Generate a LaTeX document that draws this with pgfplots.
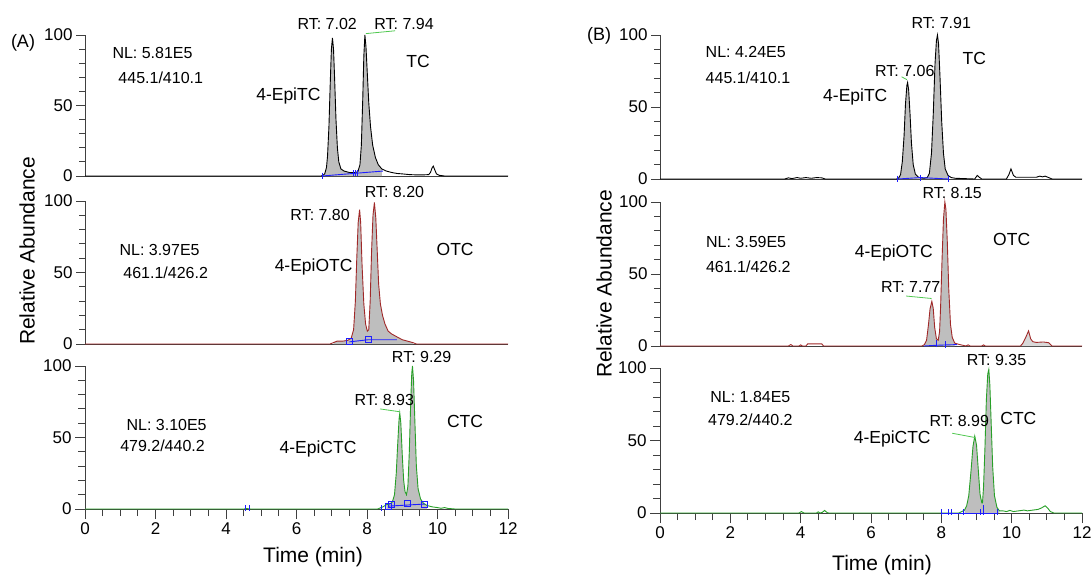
\documentclass[border=0pt]{standalone}
\usepackage{fontspec}
\setmainfont{Liberation Sans}
\usepackage{pgfplots}
\usepackage{pgfplotstable}
\pgfplotsset{compat=1.18}

\definecolor{cred}{RGB}{160,40,40}
\definecolor{cgreen}{RGB}{40,160,40}
\definecolor{cblue}{RGB}{30,30,255}
\definecolor{cfill}{RGB}{190,190,190}
\definecolor{cann}{RGB}{80,200,80}

\pgfplotstableread{
t v
0 0
6.70 0
6.75 0.5
6.80 1.5
6.85 6
6.88 14
6.92 35
6.96 68
6.99 90
7.02 98
7.05 90
7.08 70
7.12 40
7.16 20
7.20 10
7.26 5
7.35 3.5
7.50 2.5
7.66 2.5
7.74 3
7.80 8
7.84 22
7.88 55
7.91 85
7.94 100
7.97 92
8.01 72
8.05 52
8.10 35
8.16 22
8.24 13
8.32 8
8.42 5
8.55 3.5
8.70 2.5
8.85 1.8
9.00 1.5
9.20 1.0
9.40 0.8
9.60 0.8
9.75 1
9.80 2.5
9.85 6
9.88 7
9.92 4.5
9.97 1.5
10.05 0.5
10.2 0
12 0
}\dataAa

\pgfplotstableread{
t v
0 0
6.95 0
7.05 1
7.15 2
7.30 2
7.45 2.5
7.55 4
7.62 10
7.67 30
7.71 60
7.75 85
7.79 94
7.82 85
7.86 55
7.91 28
7.96 14
8.01 9
8.05 10
8.09 30
8.13 65
8.17 90
8.21 99
8.25 88
8.29 65
8.33 42
8.38 28
8.44 20
8.51 14
8.60 9
8.70 7
8.85 5
9.00 3
9.15 2
9.30 1
9.40 0
12 0
}\dataAb

\pgfplotstableread{
t v
0 0
4.50 0
4.60 0.3
4.70 0
8.30 0
8.45 1.5
8.55 3
8.65 3.5
8.72 5
8.78 10
8.83 25
8.87 45
8.91 63
8.93 67
8.96 60
9.00 38
9.04 20
9.08 12
9.12 10
9.16 16
9.20 40
9.24 75
9.27 95
9.29 100
9.32 90
9.36 60
9.40 30
9.45 14
9.52 7
9.60 4
9.70 2.5
9.85 1.5
10.0 1
10.1 0.5
10.2 1
10.3 0.4
10.5 0
12 0
}\dataAc

\pgfplotstableread{
t v
0 0
3.55 0
3.65 0.8
3.75 0.3
3.90 1
4.00 0.5
4.15 1
4.30 0.5
4.45 1
4.60 0.8
4.70 0
6.72 0
6.78 0.5
6.84 3
6.89 12
6.94 30
6.98 52
7.02 65
7.04 67
7.07 62
7.11 45
7.15 25
7.20 10
7.26 3.5
7.35 1.2
7.50 0.5
7.60 1
7.66 4
7.72 18
7.77 45
7.82 80
7.86 96
7.89 100
7.92 94
7.96 72
8.01 40
8.06 18
8.11 7
8.19 2.5
8.28 1
8.40 0.5
8.95 0
9.02 2.5
9.08 1.2
9.15 0
9.85 0
9.92 3
9.98 7
10.05 2.5
10.12 1.2
10.40 1.2
10.70 1.2
10.80 2
10.88 1.5
10.95 2
11.05 1
11.15 0
12 0
}\dataBa

\pgfplotstableread{
t v
0 0
3.65 0
3.72 1
3.78 0
3.95 0
4.00 0.8
4.05 0
4.15 0
4.20 1.5
4.60 1.5
4.65 0
7.45 0
7.52 1
7.58 4
7.63 14
7.68 26
7.73 31
7.77 26
7.81 13
7.86 5
7.91 4
7.95 10
7.98 28
8.02 60
8.06 88
8.10 100
8.13 95
8.17 72
8.21 40
8.26 15
8.31 6
8.38 2
8.52 1
8.70 0
8.76 0.8
8.82 0
9.15 0
9.20 0.8
9.25 0
10.25 0
10.32 2
10.40 6
10.48 10.5
10.54 5
10.60 3
10.70 2.5
10.90 2.8
11.05 2.3
11.15 0
12 0
}\dataBb

\pgfplotstableread{
t v
0 0
3.95 0
4.02 1
4.10 0
4.45 0
4.50 0.8
4.55 0
4.62 0.5
4.68 1.8
4.75 0.3
4.80 0
8.50 0
8.58 1
8.66 2
8.72 5
8.78 12
8.84 28
8.90 46
8.95 53
9.00 47
9.05 30
9.10 13
9.15 7
9.17 7
9.20 18
9.24 45
9.28 78
9.32 96
9.35 99
9.38 88
9.42 60
9.46 32
9.51 12
9.58 4
9.65 1.5
9.75 1.5
9.85 1
9.95 1.8
10.05 1
10.20 1.5
10.35 2
10.45 1.5
10.60 2
10.75 2.5
10.85 3.5
10.95 5
11.02 3.5
11.10 1
11.20 0
12 0
}\dataBc

\tikzset{
  lab/.style={font=\fontsize{17.5}{17.5}\selectfont},
  ann/.style={font=\fontsize{16}{16}\selectfont},
}

\pgfplotsset{
  chrom/.style={
    scale only axis,
    xmin=0, xmax=12, ymin=0, ymax=100,
    axis x line*=bottom, axis y line*=left,
    axis line style={-, black!75, line width=0.9pt},
    ytick={0,50,100}, minor ytick={10,20,30,40,60,70,80,90},
    xtick=\empty,
    tick align=outside,
    major tick length=9pt, minor tick length=6pt,
    every tick/.style={black!75, line width=0.9pt},
    ticklabel style={font=\fontsize{17}{17}\selectfont},
    /pgf/number format/assume math mode=true,
    clip=false,
  },
  bottomx/.style={
    xtick={0,2,...,12}, minor x tick num=3,
    major tick length=10pt, minor tick length=7pt,
  },
  bmark/.style={cblue, only marks, mark=|, mark size=3pt, mark options={draw=cblue, line width=0.9pt}},
  bsq/.style={cblue, only marks, mark=square, mark size=3pt, mark options={draw=cblue, fill=none, line width=0.9pt}},
}

\begin{document}
\begin{tikzpicture}
\path[use as bounding box] (0pt,0pt) rectangle (1091pt,-574pt);

% ---------------- (A) TC
\begin{axis}[chrom, at={(85pt,-176pt)}, anchor=south west, width=423pt, height=141pt]
\addplot[fill=cfill, draw=none, restrict x to domain=6.8:8.45] table[x=t,y=v]{\dataAa} \closedcycle;
\addplot[black, line width=0.9pt] table[x=t,y=v]{\dataAa};
\addplot[cblue, line width=0.9pt] coordinates {(6.72,0)(8.45,3.5)};
\addplot[bmark] coordinates {(6.74,0.3)(7.62,2)(7.67,2)(7.72,2)};
\addplot[cann, line width=0.8pt] coordinates {(7.97,101)(8.8,103)};
\node[ann, anchor=west] at (axis cs:0.68,87) {NL: 5.81E5};
\node[ann, anchor=west] at (axis cs:0.85,70) {445.1/410.1};
\node[lab, anchor=east] at (axis cs:6.78,57) {4-EpiTC};
\node[lab] at (axis cs:9.45,81) {TC};
\node[ann] at (axis cs:6.87,108) {RT: 7.02};
\node[ann] at (axis cs:9.05,108) {RT: 7.94};
\end{axis}

% ---------------- (A) OTC
\begin{axis}[chrom, at={(85pt,-344pt)}, anchor=south west, width=423pt, height=143pt]
\addplot[fill=cfill, draw=none, restrict x to domain=7.05:9.35] table[x=t,y=v]{\dataAb} \closedcycle;
\addplot[cred, line width=0.9pt] table[x=t,y=v]{\dataAb};
\addplot[cblue, line width=0.9pt] coordinates {(7.5,1.5)(8.04,3)(8.85,3)};
\addplot[bsq] coordinates {(7.5,1.5)(8.04,3)};
\node[ann, anchor=west] at (axis cs:0.88,66) {NL: 3.97E5};
\node[ann, anchor=west] at (axis cs:0.99,50) {461.1/426.2};
\node[lab, anchor=east] at (axis cs:7.69,54) {4-EpiOTC};
\node[lab] at (axis cs:10.5,66) {OTC};
\node[ann] at (axis cs:6.67,90) {RT: 7.80};
\node[ann] at (axis cs:8.78,106) {RT: 8.20};
\end{axis}

% ---------------- (A) CTC
\begin{axis}[chrom, bottomx, at={(85pt,-509pt)}, anchor=south west, width=423pt, height=143pt]
\addplot[fill=cfill, draw=none, restrict x to domain=8.5:9.75] table[x=t,y=v]{\dataAc} \closedcycle;
\addplot[cgreen, line width=0.9pt] table[x=t,y=v]{\dataAc};
\addplot[cblue, line width=0.9pt] coordinates {(8.6,2)(9.65,3.5)};
\addplot[bsq] coordinates {(8.6,2)(8.7,3)(9.15,4)(9.62,3.5)};
\addplot[bmark] coordinates {(4.56,0.5)(4.66,0.5)(8.42,0.5)};
\addplot[cann, line width=0.8pt] coordinates {(8.37,70)(8.93,68)};
\node[ann, anchor=west] at (axis cs:1.08,59) {NL: 3.10E5};
\node[ann, anchor=west] at (axis cs:0.9,44) {479.2/440.2};
\node[lab, anchor=west] at (axis cs:5.42,42) {4-EpiCTC};
\node[lab] at (axis cs:10.78,61) {CTC};
\node[ann] at (axis cs:8.49,76) {RT: 8.93};
\node[ann] at (axis cs:9.55,106) {RT: 9.29};
\end{axis}

% ---------------- (B) TC
\begin{axis}[chrom, at={(660pt,-179pt)}, anchor=south west, width=422pt, height=144pt]
\addplot[fill=cfill, draw=none, restrict x to domain=6.75:8.25] table[x=t,y=v]{\dataBa} \closedcycle;
\addplot[black, line width=0.9pt] table[x=t,y=v]{\dataBa};
\addplot[cblue, line width=0.9pt] coordinates {(6.76,0)(7.4,1)(8.2,0)};
\addplot[bmark] coordinates {(6.76,0.3)(7.4,1)(8.2,0.3)};
\addplot[cann, line width=0.8pt] coordinates {(6.87,71)(7.02,69)};
\node[ann, anchor=west] at (axis cs:1.2,88) {NL: 4.24E5};
\node[ann, anchor=west] at (axis cs:1.2,70) {445.1/410.1};
\node[lab, anchor=west] at (axis cs:4.54,57) {4-EpiTC};
\node[lab] at (axis cs:8.94,84) {TC};
\node[ann] at (axis cs:6.96,75) {RT: 7.06};
\node[ann] at (axis cs:8.0,108) {RT: 7.91};
\end{axis}

% ---------------- (B) OTC
\begin{axis}[chrom, at={(660pt,-346pt)}, anchor=south west, width=422pt, height=144pt]
\addplot[fill=cfill, draw=none, restrict x to domain=7.5:8.45] table[x=t,y=v]{\dataBb} \closedcycle;
\addplot[fill=cfill!60, draw=none, restrict x to domain=10.25:11.15] table[x=t,y=v]{\dataBb} \closedcycle;
\addplot[cred, line width=0.9pt] table[x=t,y=v]{\dataBb};
\addplot[cblue, line width=0.9pt] coordinates {(7.5,0)(7.85,0.5)(8.45,1)};
\addplot[bmark, mark size=3.5pt] coordinates {(7.85,1.5)(8.12,0.8)};
\addplot[cann, line width=0.8pt] coordinates {(7.0,34.7)(7.72,33)};
\node[ann, anchor=west] at (axis cs:1.21,72) {NL: 3.59E5};
\node[ann, anchor=west] at (axis cs:1.21,55) {461.1/426.2};
\node[lab, anchor=west] at (axis cs:5.44,64.6) {4-EpiOTC};
\node[lab] at (axis cs:10.0,74) {OTC};
\node[ann] at (axis cs:7.13,41) {RT: 7.77};
\node[ann] at (axis cs:8.31,106) {RT: 8.15};
\end{axis}

% ---------------- (B) CTC
\begin{axis}[chrom, bottomx, at={(660pt,-513pt)}, anchor=south west, width=422pt, height=145pt]
\addplot[fill=cfill, draw=none, restrict x to domain=8.6:9.65] table[x=t,y=v]{\dataBc} \closedcycle;
\addplot[cgreen, line width=0.9pt] table[x=t,y=v]{\dataBc};
\addplot[cblue, line width=0.9pt] coordinates {(8.0,0)(9.62,0)};
\addplot[bmark] coordinates {(8.0,0.5)(8.2,0.5)(8.3,0.5)(8.62,0.5)(9.12,0.5)(9.6,0.5)};
\addplot[bmark, mark size=5pt] coordinates {(9.2,2)};
\addplot[cann, line width=0.8pt] coordinates {(8.31,55)(8.97,52)};
\node[ann] at (axis cs:2.57,80) {NL: 1.84E5};
\node[ann] at (axis cs:2.57,64) {479.2/440.2};
\node[lab, anchor=west] at (axis cs:5.41,51) {4-EpiCTC};
\node[lab] at (axis cs:10.19,65.5) {CTC};
\node[ann] at (axis cs:8.51,63.6) {RT: 8.99};
\node[ann] at (axis cs:9.57,105.5) {RT: 9.35};
\end{axis}

% ---------------- labels
\node[font=\fontsize{18}{18}\selectfont] at (23pt,-43pt) {(A)};
\node[font=\fontsize{18}{18}\selectfont] at (599pt,-36pt) {(B)};
\node[rotate=90, font=\fontsize{21}{21}\selectfont] at (27pt,-251pt) {Relative Abundance};
\node[rotate=90, font=\fontsize{21}{21}\selectfont] at (604pt,-284pt) {Relative Abundance};
\node[font=\fontsize{21}{21}\selectfont] at (313pt,-557pt) {Time (min)};
\node[font=\fontsize{21}{21}\selectfont] at (882pt,-565pt) {Time (min)};
\end{tikzpicture}
\end{document}
